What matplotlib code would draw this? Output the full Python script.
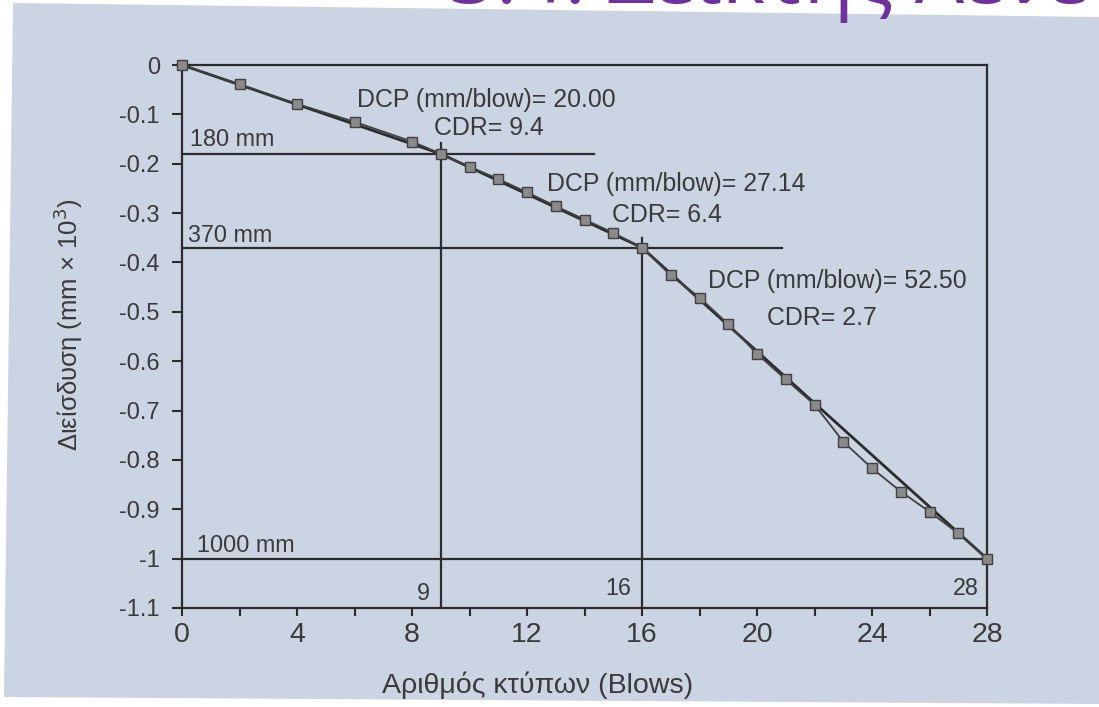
import matplotlib
matplotlib.use("Agg")
import matplotlib.pyplot as plt
from matplotlib.patches import Polygon
import numpy as np

# Dynamic cone penetration test record
blows = [0, 2, 4, 6, 8, 9, 10, 11, 12, 13, 14, 15, 16, 17, 18, 19, 20,
         21, 22, 23, 24, 25, 26, 27, 28]
penetration = [0.0, -0.039, -0.079, -0.115, -0.155, -0.18, -0.206, -0.231,
               -0.258, -0.286, -0.313, -0.340, -0.37, -0.426, -0.471, -0.525,
               -0.585, -0.637, -0.688, -0.763, -0.817, -0.864, -0.905, -0.949,
               -1.0]

# Layer boundaries: blow count and depth (mm)
layer_blows = [9, 16, 28]
layer_depths_mm = [180, 370, 1000]
cdr_values = ["9.4", "6.4", "2.7"]

y_ticks = [0, -0.1, -0.2, -0.3, -0.4, -0.5, -0.6, -0.7, -0.8, -0.9, -1.0, -1.1]
x_ticks = list(range(0, 29, 2))

W, H = 1099, 707
fig = plt.figure(figsize=(W / 100, H / 100), dpi=100)
fig.patch.set_facecolor("white")

def fx(px):
    return px / W

def fy(py):
    return 1 - py / H

# slide backdrop
bg = Polygon([(fx(13), fy(3)), (fx(1099), fy(17)), (fx(1099), fy(704)), (fx(4), fy(697))],
             closed=True, transform=fig.transFigure, facecolor="#cbd4e2",
             edgecolor="none", zorder=-5)
fig.add_artist(bg)

# slide heading, running off the top edge
fig.text(fx(449), fy(3), "3.4. Δείκτης Λενε", fontsize=59, color="#7030a0",
         family="Open Sans", va="baseline", ha="left", zorder=5)

ax = fig.add_axes([fx(182), fy(608), fx(987) - fx(182), fy(65) - fy(608)])
ax.set_facecolor("none")
ink = "#2c2c2c"
txt = "#3a3a3a"
font = "Liberation Sans"

ax.set_xlim(0, 28)
ax.set_ylim(-1.1, 0)
for s in ax.spines.values():
    s.set_color(ink)
    s.set_linewidth(1.6)

ax.set_xticks(x_ticks)
ax.set_xticklabels([str(v) if v % 4 == 0 else "" for v in x_ticks],
                   fontsize=20.5, color=txt, family=font)
ax.set_yticks(y_ticks)
ax.set_yticklabels(["0" if v == 0 else "{:g}".format(v) for v in y_ticks],
                   fontsize=17, color=txt, family=font)
ax.tick_params(axis="x", direction="out", length=6, width=1.5, color=ink, pad=4)
ax.tick_params(axis="y", direction="out", length=7, width=1.5, color=ink, pad=9)

# fitted straight segments between layer boundaries
fit_x = [0] + layer_blows
fit_y = [0] + [-d / 1000 for d in layer_depths_mm]
ax.plot(fit_x, fit_y, color=ink, lw=2.0, zorder=3, clip_on=False)

# measured points
ax.plot(blows, penetration, color="#404040", lw=1.3, marker="s", markersize=6.5,
        markerfacecolor="#8a8a8a", markeredgecolor="#404040", markeredgewidth=1.0,
        zorder=4, clip_on=False)

# layer boundary guide lines
h_ends = [14.33, 20.87, 28]
v_tops = [-0.158, -0.35]
for d, xe in zip(layer_depths_mm, h_ends):
    ax.plot([0, xe], [-d / 1000] * 2, color=ink, lw=1.6, zorder=2)
for b, yt in zip(layer_blows[:2], v_tops):
    ax.plot([b, b], [yt, -1.1], color=ink, lw=1.6, zorder=2)

# depth labels
depth_pos = [(0.28, -0.164), (0.21, -0.359), (0.52, -0.987)]
for d, (x, y) in zip(layer_depths_mm, depth_pos):
    ax.text(x, y, f"{d} mm", fontsize=16.8, color=txt, family=font, va="baseline")

# blow count labels
blow_pos = [(8.62, -1.084), (15.62, -1.074), (27.72, -1.074)]
for b, (x, y) in zip(layer_blows, blow_pos):
    ax.text(x, y, str(b), fontsize=16.8, color=txt, family=font, va="baseline", ha="right")

# DCP / CDR annotations for each layer
dcp_pos = [(6.09, -0.085), (12.70, -0.255), (18.30, -0.452)]
cdr_pos = [(8.77, -0.142), (14.96, -0.318), (20.35, -0.527)]
prev_b, prev_d = 0, 0
for i, (b, d) in enumerate(zip(layer_blows, layer_depths_mm)):
    dcp = (d - prev_d) / (b - prev_b)
    prev_b, prev_d = b, d
    ax.text(*dcp_pos[i], f"DCP (mm/blow)= {dcp:.2f}", fontsize=17.9, color=txt,
            family=font, va="baseline")
    ax.text(*cdr_pos[i], f"CDR= {cdr_values[i]}", fontsize=17.9, color=txt,
            family=font, va="baseline")

fig.text(fx(538), fy(685), "Αριθμός κτύπων (Blows)", fontsize=20.5, color=txt,
         family=font, ha="center", va="center")
fig.text(fx(68), fy(325), "Διείσδυση (mm × 10$^3$)", fontsize=18.5, color=txt,
         family=font, ha="center", va="center", rotation=90)

fig.savefig("out.png", dpi=100)
